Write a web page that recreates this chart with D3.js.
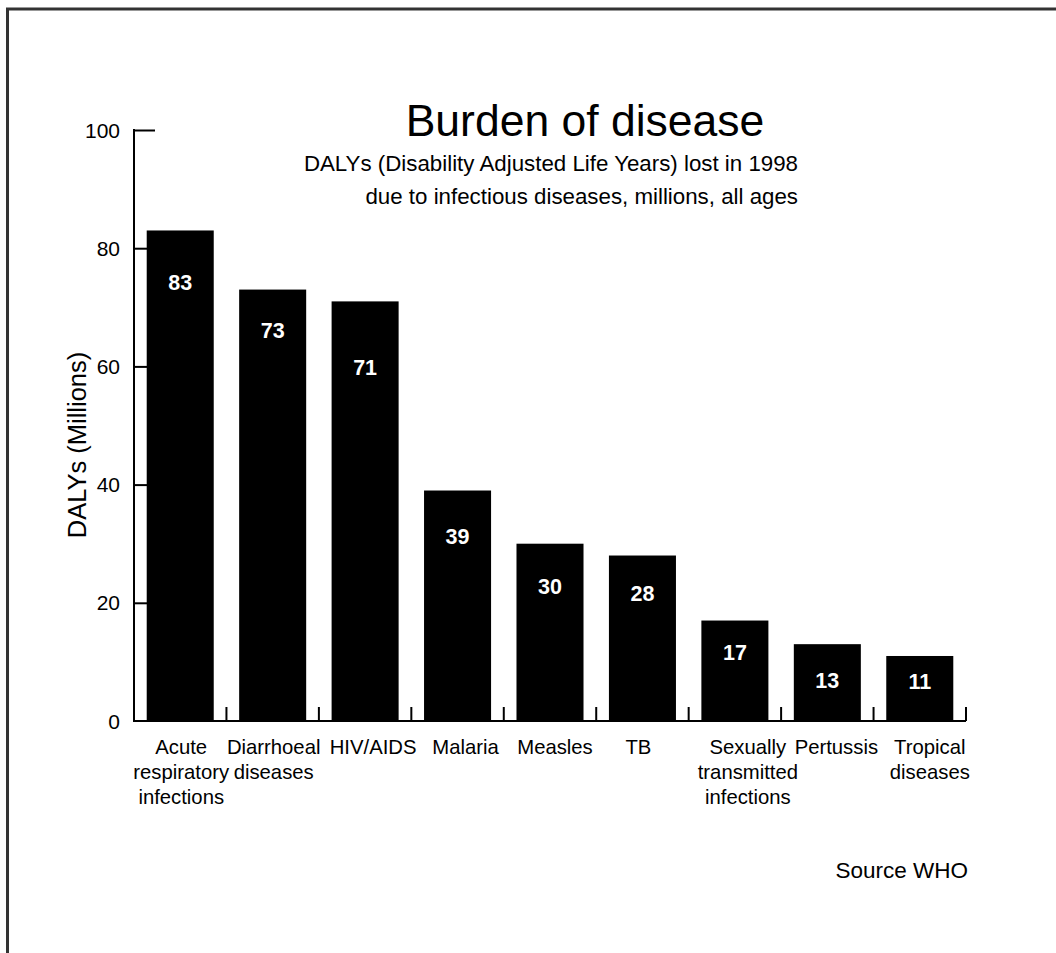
<!DOCTYPE html>
<html>
<head>
<meta charset="utf-8">
<script src="https://cdn.jsdelivr.net/npm/d3@7"></script>
<style>
  html, body { margin: 0; padding: 0; background: #fff; }
  svg { display: block; font-family: "Liberation Sans", Arial, sans-serif; }
</style>
</head>
<body>
<svg id="chart" width="1056" height="953"></svg>
<script>
// Infectious disease burden, DALYs lost in 1998 (millions)
const categories = [
  ["Acute", "respiratory", "infections"],
  ["Diarrhoeal", "diseases"],
  ["HIV/AIDS"],
  ["Malaria"],
  ["Measles"],
  ["TB"],
  ["Sexually", "transmitted", "infections"],
  ["Pertussis"],
  ["Tropical", "diseases"]
];
const values = [83, 73, 71, 39, 30, 28, 17, 13, 11];
const yTicks = [0, 20, 40, 60, 80, 100];

// Layout tweaks: value label depth below bar top, category label nudge (px)
const labelOffsets = [52, 40, 66, 45, 42, 37, 31, 36, 25];
const categoryShift = [1, 1, 8, 8, 5, -4, 13, 9, 10];

const svg = d3.select("#chart");

// Frame: top and left edges
svg.append("line").attr("x1", 6).attr("x2", 1056).attr("y1", 9).attr("y2", 9)
  .attr("stroke", "#333").attr("stroke-width", 3);
svg.append("line").attr("x1", 7.5).attr("x2", 7.5).attr("y1", 8).attr("y2", 953)
  .attr("stroke", "#333").attr("stroke-width", 3);

const x0 = 134, x1 = 966, yTop = 130, yBase = 721;

const x = d3.scaleBand()
  .domain(d3.range(values.length))
  .range([x0, x1])
  .paddingInner(0.275)
  .paddingOuter(0.1375);

const y = d3.scaleLinear().domain([0, 100]).range([yBase, yTop]);

// Bars
svg.append("g").selectAll("rect")
  .data(values)
  .join("rect")
  .attr("x", (d, i) => x(i))
  .attr("y", d => y(d))
  .attr("width", x.bandwidth())
  .attr("height", d => y(0) - y(d))
  .attr("fill", "#000");

// Y axis: ticks pointing inward
const yAxis = d3.axisRight(y).tickValues(yTicks).tickSize(21).tickFormat("");
const gy = svg.append("g").attr("transform", `translate(${x0},0)`).call(yAxis);
gy.select(".domain").remove();
gy.selectAll(".tick line").attr("stroke", "#000").attr("stroke-width", 2)
  .filter(d => d === 0).remove();
svg.append("line").attr("x1", x0).attr("x2", x0).attr("y1", yTop - 1).attr("y2", yBase + 1)
  .attr("stroke", "#000").attr("stroke-width", 2);

// Y tick labels
svg.append("g").selectAll("text")
  .data(yTicks)
  .join("text")
  .attr("x", 120)
  .attr("y", d => y(d) + 7.5)
  .attr("text-anchor", "end")
  .attr("font-size", 21)
  .attr("fill", "#000")
  .text(d => d);

// X baseline with upward ticks at band boundaries
const boundaries = d3.range(1, values.length + 1).map(i => x0 + i * (x1 - x0) / values.length);
svg.append("line").attr("x1", x0).attr("x2", x1).attr("y1", yBase).attr("y2", yBase)
  .attr("stroke", "#000").attr("stroke-width", 2);
svg.append("g").selectAll("line")
  .data(boundaries)
  .join("line")
  .attr("x1", d => d).attr("x2", d => d)
  .attr("y1", yBase).attr("y2", yBase - 14)
  .attr("stroke", "#000").attr("stroke-width", 2);

// Category labels
const catG = svg.append("g");
categories.forEach((lines, i) => {
  const cx = x(i) + x.bandwidth() / 2 + categoryShift[i];
  const t = catG.append("text")
    .attr("x", cx)
    .attr("y", 754)
    .attr("text-anchor", "middle")
    .attr("font-size", 20.3)
    .attr("fill", "#000");
  lines.forEach((ln, k) => {
    t.append("tspan").attr("x", cx).attr("dy", k === 0 ? 0 : 25).text(ln);
  });
});

// Value labels inside bars
svg.append("g").selectAll("text")
  .data(values)
  .join("text")
  .attr("x", (d, i) => x(i) + x.bandwidth() / 2)
  .attr("y", (d, i) => y(d) + labelOffsets[i] + 8)
  .attr("text-anchor", "middle")
  .attr("font-size", 21.5)
  .attr("font-weight", "bold")
  .attr("fill", "#fff")
  .text(d => d);

// Title and subtitle
svg.append("text").attr("x", 585).attr("y", 136).attr("text-anchor", "middle")
  .attr("font-size", 44.5).attr("fill", "#000").text("Burden of disease");
svg.append("text").attr("x", 798).attr("y", 171).attr("text-anchor", "end")
  .attr("font-size", 22.3).attr("fill", "#000")
  .text("DALYs (Disability Adjusted Life Years) lost in 1998");
svg.append("text").attr("x", 798).attr("y", 204).attr("text-anchor", "end")
  .attr("font-size", 22.3).attr("fill", "#000")
  .text("due to infectious diseases, millions, all ages");

// Y axis title
svg.append("text")
  .attr("transform", "translate(86,445) rotate(-90)")
  .attr("text-anchor", "middle")
  .attr("font-size", 25.5)
  .attr("fill", "#000")
  .text("DALYs (Millions)");

// Source note
svg.append("text").attr("x", 968).attr("y", 878).attr("text-anchor", "end")
  .attr("font-size", 22.5).attr("fill", "#000").text("Source WHO");
</script>
</body>
</html>
